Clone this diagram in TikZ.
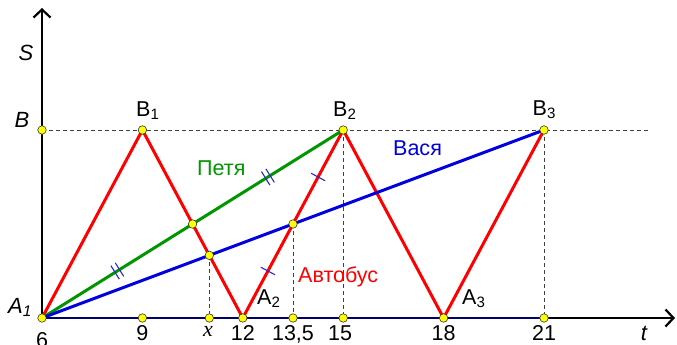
\documentclass[tikz,border=0pt]{standalone}
\usepackage{fontspec}
\setmainfont{Liberation Sans}
\newfontfamily\serifx{Liberation Serif}
\usetikzlibrary{calc,arrows.meta}
\definecolor{busred}{RGB}{255,0,0}
\definecolor{petgreen}{RGB}{0,150,0}
\definecolor{vasblue}{RGB}{0,0,225}
\definecolor{navyax}{RGB}{0,0,110}
\definecolor{tickblue}{RGB}{40,40,210}
\definecolor{dotyellow}{RGB}{255,255,0}
\tikzset{
  axis/.style={line width=2.4pt,black,-{Straight Barb[length=8pt,width=17pt,line width=2.2pt]}},
  guide/.style={black!75,line width=0.9pt,dash pattern=on 4pt off 3pt},
  bus/.style={busred,line width=3pt},
  petya/.style={petgreen,line width=3pt},
  vasya/.style={vasblue,line width=3pt},
  tickm/.style={tickblue,line width=1.1pt},
  dot/.style={circle,fill=dotyellow,draw=black!80,line width=0.6pt,inner sep=0pt,minimum size=8.5pt},
  lbl/.style={font=\fontsize{21.5}{24}\selectfont,inner sep=0pt},
  ilbl/.style={font=\fontsize{22}{24}\selectfont\itshape,inner sep=0pt},
  num/.style={font=\fontsize{21.5}{24}\selectfont,inner sep=0pt,anchor=base},
}
\begin{document}
\begin{tikzpicture}[x=1pt,y=-1pt]
\useasboundingbox (0,0) rectangle (677,345);
% key points (pixel coordinates)
\coordinate (A1) at (42,318);
\coordinate (Bax) at (42,130);
\coordinate (B1) at (142.4,130);
\coordinate (B2) at (343.2,130);
\coordinate (B3) at (544,130);
\coordinate (A2) at (242.8,318);
\coordinate (A3) at (443.6,318);
\coordinate (P) at (192.6,224);
\coordinate (V1) at (209.33,255.33);
\coordinate (V2) at (293,224);
\coordinate (T9) at (142.4,318);
\coordinate (TX) at (209.33,318);
\coordinate (T135) at (293,318);
\coordinate (T15) at (343.2,318);
\coordinate (T21) at (544,318);
\coordinate (Yend) at (42,8);
\coordinate (Xend) at (675,318);
\coordinate (Dend) at (650,130);
% guides
\draw[guide] (Bax) -- (Dend);
\draw[guide] (V1) -- (TX);
\draw[guide] (V2) -- (T135);
\draw[guide] (B2) -- (T15);
\draw[guide] (B3) -- (T21);
% axes
\draw[axis] (A1) -- (Yend);
\draw[axis] (A1) -- (Xend);
\draw[navyax,line width=2.6pt] (A1) -- (T21);
% bus
\draw[bus,line join=miter] (A1) -- (B1) -- (A2) -- (B2) -- (A3) -- (B3);
% Petya and Vasya
\draw[petya] (A1) -- (B2);
\draw[vasya] (A1) -- (B3);
% tick marks: double on Petya
\coordinate (pm1) at ($(A1)!0.5!(P)$);
\coordinate (pm2) at ($(P)!0.5!(B2)$);
\coordinate (pm1a) at ($(pm1)!2.6pt!(P)$);
\coordinate (pm1b) at ($(pm1)!-2.6pt!(P)$);
\coordinate (pm2a) at ($(pm2)!2.6pt!(B2)$);
\coordinate (pm2b) at ($(pm2)!-2.6pt!(B2)$);
\draw[tickm] ($(pm1a)!8pt!90:(P)$) -- ($(pm1a)!8pt!-90:(P)$);
\draw[tickm] ($(pm1b)!8pt!90:(P)$) -- ($(pm1b)!8pt!-90:(P)$);
\draw[tickm] ($(pm2a)!8pt!90:(B2)$) -- ($(pm2a)!8pt!-90:(B2)$);
\draw[tickm] ($(pm2b)!8pt!90:(B2)$) -- ($(pm2b)!8pt!-90:(B2)$);
% single ticks on bus A2-B2
\coordinate (bm1) at ($(A2)!0.5!(V2)$);
\coordinate (bm2) at ($(V2)!0.5!(B2)$);
\draw[tickm] ($(bm1)!8pt!90:(B2)$) -- ($(bm1)!8pt!-90:(B2)$);
\draw[tickm] ($(bm2)!8pt!90:(B2)$) -- ($(bm2)!8pt!-90:(B2)$);
% dots
\foreach \p in {A1,Bax,B1,B2,B3,A2,A3,P,V1,V2,T9,TX,T135,T15,T21}
  \node[dot] at (\p) {};
% labels
\node[ilbl] (sl) at (26,53) {S};
\node[ilbl] (bl) at (22,120) {B};
\node[ilbl,anchor=base west] (a1l) at (8,313) {A\textsubscript{1}};
\node[lbl,anchor=base west] (b1l) at (136,116) {B\textsubscript{1}};
\node[lbl,anchor=base west] (b2l) at (333,116) {B\textsubscript{2}};
\node[lbl,anchor=base west] (b3l) at (532.5,115) {B\textsubscript{3}};
\node[lbl,anchor=base west] (a2l) at (257,304) {A\textsubscript{2}};
\node[lbl,anchor=base west] (a3l) at (462,304) {A\textsubscript{3}};
\node[lbl,anchor=base west,text=petgreen] (pl) at (197,175) {Петя};
\node[lbl,anchor=base west,text=vasblue] (vl) at (393,155) {Вася};
\node[lbl,anchor=base west,text=busred] (al) at (298,282) {Автобус};
\node[num] (n6) at (42,347) {6};
\node[num] (n9) at (142.4,340) {9};
\node[num,font=\fontsize{22}{24}\selectfont\serifx\itshape] (nx) at (208,336) {x};
\node[num] (n12) at (242.8,340) {12};
\node[num] (n135) at (293,340) {13,5};
\node[num] (n15) at (340,340) {15};
\node[num] (n18) at (443.6,340) {18};
\node[num] (n21) at (544,340) {21};
\node[num,font=\fontsize{22}{24}\selectfont\itshape] (nt) at (644,340) {t};
\end{tikzpicture}
\end{document}
